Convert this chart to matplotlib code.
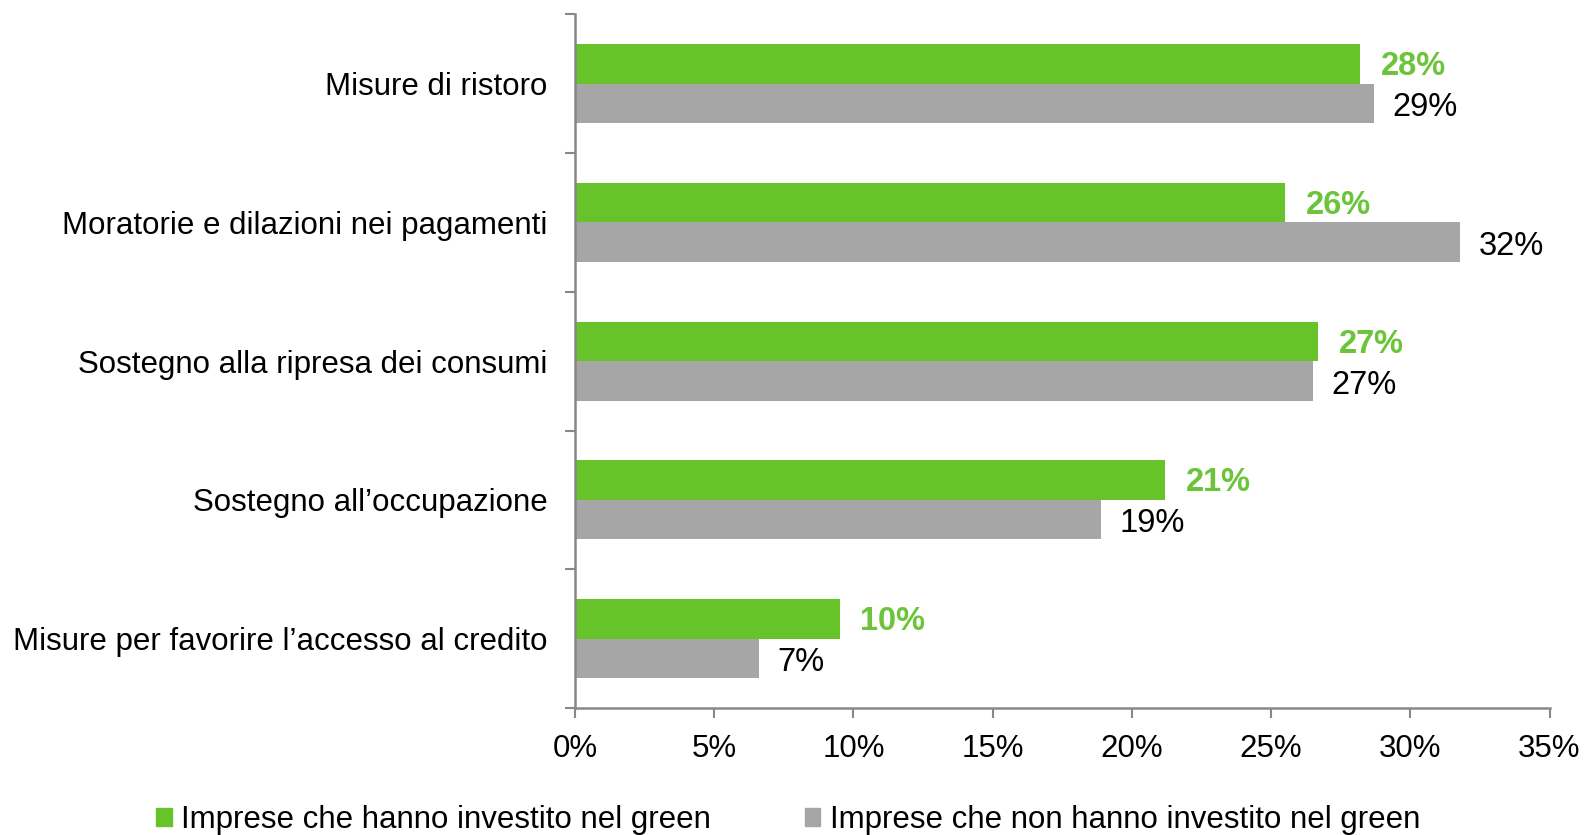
import matplotlib
matplotlib.use("Agg")
import matplotlib.pyplot as plt
from matplotlib.ticker import FuncFormatter, FixedLocator
from matplotlib.patches import Patch

plt.rcParams['font.family'] = ['Liberation Sans', 'DejaVu Sans']

categories = [
    "Misure di ristoro",
    "Moratorie e dilazioni nei pagamenti",
    "Sostegno alla ripresa dei consumi",
    "Sostegno all\u2019occupazione",
    "Misure per favorire l\u2019accesso al credito",
]
green_vals = [28.2, 25.5, 26.7, 21.2, 9.5]
gray_vals = [28.7, 31.8, 26.5, 18.9, 6.6]
green_labels = ["28%", "26%", "27%", "21%", "10%"]
gray_labels = ["29%", "32%", "27%", "19%", "7%"]
series_names = ["Imprese che hanno investito nel green",
                "Imprese che non hanno investito nel green"]
xticks = [0, 5, 10, 15, 20, 25, 30, 35]

GREEN = "#66c42a"
GRAY = "#a6a6a6"
LBL_GREEN = "#6cc43a"

fig = plt.figure(figsize=(15.86, 8.35), dpi=100)
ax = fig.add_axes([0.3626, 0.152, 0.6144, 0.831])

n = len(categories)
pos = list(range(n))
h = 0.285
ax.barh([p - h / 2 for p in pos], green_vals, height=h, color=GREEN, label=series_names[0])
ax.barh([p + h / 2 for p in pos], gray_vals, height=h, color=GRAY, label=series_names[1])

fs = 22.5
lfs = 23.5
for p, v, t in zip(pos, green_vals, green_labels):
    ax.annotate(t, (v, p - h / 2), xytext=(15, -2), textcoords="offset points",
                va="center", ha="left", color=LBL_GREEN, fontweight="bold", fontsize=lfs)
for p, v, t in zip(pos, gray_vals, gray_labels):
    ax.annotate(t, (v, p + h / 2), xytext=(13, -3), textcoords="offset points",
                va="center", ha="left", color="black", fontsize=lfs)

ax.set_xlim(0, 35)
ax.set_ylim(n - 0.5, -0.5)
ax.set_xticks(xticks)
ax.xaxis.set_major_formatter(FuncFormatter(lambda x, _: f"{x:.0f}%"))
ax.set_yticks(pos)
ax.set_yticklabels(categories)
ax.yaxis.set_minor_locator(FixedLocator([i - 0.5 for i in range(n + 1)]))
ax.tick_params(axis="y", which="major", length=0, pad=20, labelsize=fs)
ax.tick_params(axis="y", which="minor", length=7, width=1.5, color="#888888", direction="out")
ax.tick_params(axis="x", length=7, width=1.5, color="#888888", direction="out", labelsize=fs, pad=12)

for s in ["top", "right"]:
    ax.spines[s].set_visible(False)
for s in ["left", "bottom"]:
    ax.spines[s].set_color("#888888")
    ax.spines[s].set_linewidth(1.8)

handles = [Patch(color=GREEN), Patch(color=GRAY)]
fig.legend(handles, series_names, loc="lower center", bbox_to_anchor=(0.497, -0.034),
           ncol=2, frameon=False, fontsize=fs, handlelength=0.5, handleheight=0.5,
           handletextpad=0.3, columnspacing=3.0)

fig.savefig("out.png", dpi=100)
